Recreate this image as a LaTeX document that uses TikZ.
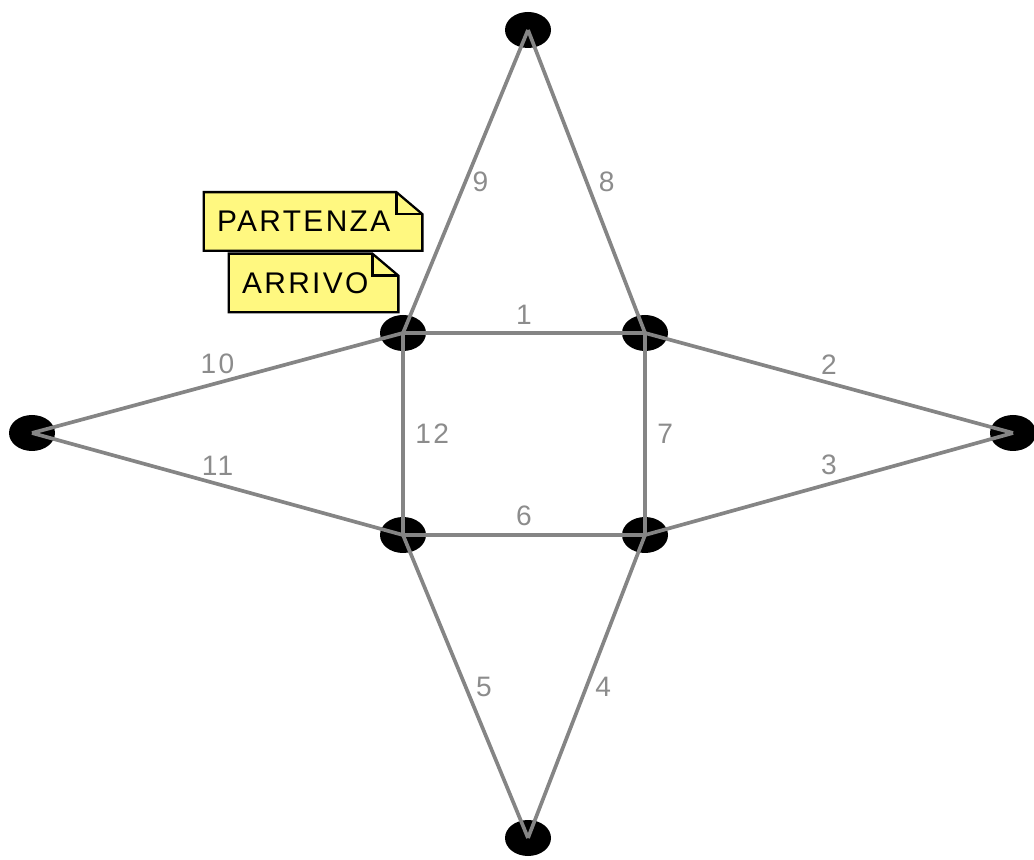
\documentclass[tikz,border=0pt]{standalone}
\usepackage{fontspec}
\setmainfont{Liberation Sans}
\newfontfamily\diafont[LetterSpace=8]{Liberation Sans}
\usetikzlibrary{positioning,shapes.geometric,calc,backgrounds}

\begin{document}
\begin{tikzpicture}[
    vertice/.style={ellipse,fill=black,minimum width=0.92cm,minimum height=0.72cm,inner sep=0pt},
    arco/.style={draw=black!48,line width=2.1pt},
    etichetta/.style={text=black!45,font=\diafont\fontsize{16}{16}\selectfont,inner sep=2pt},
    nota/.style={font=\diafont\fontsize{17}{17}\selectfont,minimum height=1.16cm,inner xsep=0.26cm,inner ysep=0pt,align=left},
    notabox/.style={draw=black,line width=1.3pt,fill=yellow!50},
    notapiega/.style={draw=black,line width=1.3pt},
]
\useasboundingbox (0,0) rectangle (20.68,17.18);
% vertici del grafo
\node[vertice] (nord)  at (10.56,16.58) {};
\node[vertice] (no)    at (8.06,10.52) {};
\node[vertice] (ne)    at (12.90,10.52) {};
\node[vertice] (ovest) at (0.64,8.52) {};
\node[vertice] (est)   at (20.26,8.52) {};
\node[vertice] (so)    at (8.06,6.48) {};
\node[vertice] (se)    at (12.90,6.48) {};
\node[vertice] (sud)   at (10.56,0.42) {};
% archi numerati
\foreach \a/\b/\n/\d/\s in {no/ne/1/above/2pt,ne/est/2/above/2pt,se/est/3/above/2pt,
    se/sud/4/right/2pt,so/sud/5/right/3pt,so/se/6/above/2pt,ne/se/7/right/4pt,
    ne/nord/8/right/4pt,no/nord/9/right/1pt,ovest/no/10/above/2pt,ovest/so/11/above/2pt,
    no/so/12/right/4pt}
  \draw[arco] (\a.center) -- node[etichetta,\d=\s] {\n} (\b.center);
% note
\node[nota,text width=3.84cm] (partenza) at (6.26,12.75) {PARTENZA};
\node[nota,text width=2.86cm] (arrivo)   at (6.27,11.52) {ARRIVO};
\begin{scope}[on background layer]
  \foreach \n in {partenza,arrivo}{
    \draw[notabox] (\n.south west) -- (\n.north west) -- ([xshift=-0.52cm]\n.north east)
      -- ([yshift=-0.44cm]\n.north east) -- (\n.south east) -- cycle;
    \draw[notapiega] ([xshift=-0.52cm]\n.north east) |- ([yshift=-0.44cm]\n.north east);
  }
\end{scope}
\end{tikzpicture}
\end{document}
